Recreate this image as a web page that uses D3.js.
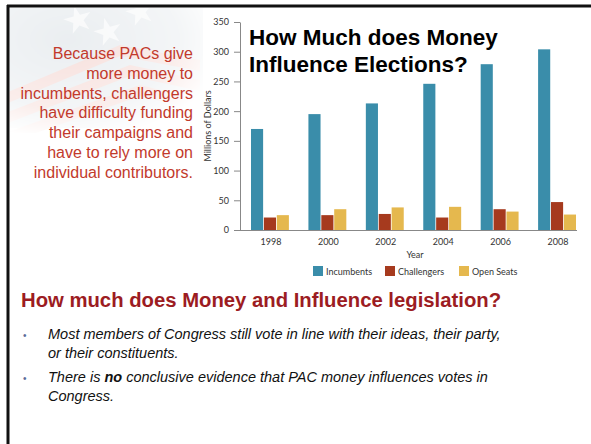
<!DOCTYPE html>
<html>
<head>
<meta charset="utf-8">
<script src="https://cdn.jsdelivr.net/npm/d3@7"></script>
<style>
  body { margin: 0; background: #fff; }
  svg { display: block; }
</style>
</head>
<body>
<script>
const years = ['1998', '2000', '2002', '2004', '2006', '2008'];
const seriesNames = ['Incumbents', 'Challengers', 'Open Seats'];
const incumbents = [170, 195, 213, 246, 279, 304];
const challengers = [21, 25, 27, 21, 35, 47];
const openSeats = [25, 35, 38, 39, 31, 26];
const yTicks = [0, 50, 100, 150, 200, 250, 300, 350];
const seriesColors = ['#3a8daa', '#a63a1e', '#e5b84e'];

const sideLines = [
  'Because PACs give',
  'more money to',
  'incumbents, challengers',
  'have difficulty funding',
  'their campaigns and',
  'have to rely more on',
  'individual contributors.'
];

const width = 591, height = 444;

const svg = d3.select('body').append('svg')
  .attr('width', width)
  .attr('height', height);

// faded flag in the corner
const defs = svg.append('defs');
const fade = defs.append('radialGradient')
  .attr('id', 'fade')
  .attr('cx', 0.3).attr('cy', 0.25).attr('r', 0.8);
fade.append('stop').attr('offset', '0%').attr('stop-color', '#fff').attr('stop-opacity', 0.9);
fade.append('stop').attr('offset', '70%').attr('stop-color', '#fff').attr('stop-opacity', 0.5);
fade.append('stop').attr('offset', '100%').attr('stop-color', '#fff').attr('stop-opacity', 0);
defs.append('mask').attr('id', 'flagMask')
  .append('rect')
    .attr('x', 8).attr('y', 8).attr('width', 200).attr('height', 125)
    .attr('fill', 'url(#fade)');

const flag = svg.append('g').attr('mask', 'url(#flagMask)');
flag.append('rect')
  .attr('x', 8).attr('y', 8).attr('width', 195).attr('height', 120)
  .attr('fill', '#e8ecef');
[0, 1, 2].forEach(i => {
  flag.append('path')
    .attr('d', `M8,${ 92 + i * 20 } L${ 120 + i * 10 },${ 45 + i * 20 } L200,${ 60 + i * 20 } L200,${ 71 + i * 20 } L${ 120 + i * 10 },${ 56 + i * 20 } L8,${ 103 + i * 20 } Z`)
    .attr('fill', '#f5dcd8');
});
const star = d3.symbol().type(d3.symbolStar).size(240);
[[78, 20], [108, 32], [140, 12]].forEach(([sx, sy]) => {
  flag.append('path')
    .attr('d', star())
    .attr('transform', `translate(${ sx },${ sy }) rotate(-15)`)
    .attr('fill', '#f7f8f9');
});

// slide frame
svg.append('line')
  .attr('x1', 7).attr('x2', width).attr('y1', 6).attr('y2', 6)
  .attr('stroke', '#111').attr('stroke-width', 3);
svg.append('line')
  .attr('x1', 8).attr('x2', 8).attr('y1', 5).attr('y2', height)
  .attr('stroke', '#111').attr('stroke-width', 3);

// side text
svg.append('g')
  .attr('font-family', '"Liberation Sans", Arial, sans-serif')
  .attr('font-size', 16)
  .attr('fill', '#c23a2c')
  .attr('text-anchor', 'end')
  .selectAll('text')
  .data(sideLines)
  .join('text')
    .attr('x', 193)
    .attr('y', (d, i) => 59 + i * 19.8)
    .text(d => d);

// chart
const axisX = 240, axisRight = 577;
const y = d3.scaleLinear().domain([0, 350]).range([230, 22]);
const x0 = d3.scaleBand().domain(years).range([251, 576]).paddingInner(0.34);
const x1 = d3.scaleBand().domain(seriesNames).range([0, x0.bandwidth()]).paddingInner(0.06);
const color = d3.scaleOrdinal().domain(seriesNames).range(seriesColors);

const rows = years.map((year, i) => ({
  year,
  values: [incumbents[i], challengers[i], openSeats[i]].map((v, j) => ({ key: seriesNames[j], value: v }))
}));

const chartFont = 'Lato, "Open Sans", sans-serif';
const chartSize = 9;

const yAxis = svg.append('g')
  .attr('transform', `translate(${ axisX },0)`)
  .call(d3.axisLeft(y).tickValues(yTicks).tickSize(6).tickPadding(5).tickSizeOuter(0));
yAxis.select('.domain').attr('stroke', '#888');
yAxis.selectAll('.tick line').attr('stroke', '#888');
yAxis.selectAll('.tick text')
  .attr('font-family', chartFont)
  .attr('font-size', chartSize)
  .attr('fill', '#333');

svg.append('g')
  .selectAll('g')
  .data(rows)
  .join('g')
    .attr('transform', d => `translate(${ x0(d.year) },0)`)
  .selectAll('rect')
  .data(d => d.values)
  .join('rect')
    .attr('x', d => x1(d.key))
    .attr('y', d => y(d.value))
    .attr('width', x1.bandwidth())
    .attr('height', d => y(0) - y(d.value))
    .attr('fill', d => color(d.key));

svg.append('line')
  .attr('x1', axisX).attr('x2', axisRight)
  .attr('y1', y(0) + 0.5).attr('y2', y(0) + 0.5)
  .attr('stroke', '#888');

svg.append('g')
  .attr('font-family', chartFont)
  .attr('font-size', chartSize)
  .attr('fill', '#333')
  .attr('text-anchor', 'middle')
  .selectAll('text')
  .data(years)
  .join('text')
    .attr('x', d => x0(d) + x0.bandwidth() / 2 + 1)
    .attr('y', 245)
    .text(d => d);

svg.append('text')
  .attr('x', 415).attr('y', 258)
  .attr('text-anchor', 'middle')
  .attr('font-family', chartFont)
  .attr('font-size', chartSize)
  .attr('fill', '#333')
  .text('Year');

svg.append('text')
  .attr('transform', `translate(211,${ y(175) }) rotate(-90)`)
  .attr('text-anchor', 'middle')
  .attr('font-family', chartFont)
  .attr('font-size', chartSize)
  .attr('fill', '#333')
  .text('Millions of Dollars');

// legend
const legendX = [313, 385, 459];
const legend = svg.append('g')
  .selectAll('g')
  .data(seriesNames)
  .join('g')
    .attr('transform', (d, i) => `translate(${ legendX[i] },266)`);
legend.append('rect')
  .attr('width', 10).attr('height', 10)
  .attr('fill', d => color(d));
legend.append('text')
  .attr('x', 13).attr('y', 8.5)
  .attr('font-family', chartFont)
  .attr('font-size', chartSize)
  .attr('fill', '#333')
  .text(d => d);

// chart title
svg.append('g')
  .attr('font-family', '"Liberation Sans", Arial, sans-serif')
  .attr('font-weight', 'bold')
  .attr('font-size', 22.5)
  .attr('fill', '#000')
  .selectAll('text')
  .data(['How Much does Money', 'Influence Elections?'])
  .join('text')
    .attr('x', 249)
    .attr('y', (d, i) => 45 + i * 26.5)
    .text(d => d);

// lower heading
svg.append('text')
  .attr('x', 21).attr('y', 307)
  .attr('font-family', '"Liberation Sans", Arial, sans-serif')
  .attr('font-weight', 'bold')
  .attr('font-size', 20.3)
  .attr('fill', '#9c1c22')
  .text('How much does Money and Influence legislation?');

// bullets
const bullets = [
  [['Most members of Congress still vote in line with their ideas, their party,'], ['or their constituents.']],
  [['There is ', ['no'], ' conclusive evidence that PAC money influences votes in'], ['Congress.']]
];
const bulletY = [339, 382];
const bulletG = svg.append('g')
  .attr('font-family', '"Liberation Sans", Arial, sans-serif')
  .attr('font-size', 14.5)
  .attr('font-style', 'italic')
  .attr('fill', '#111');

bullets.forEach((lines, bi) => {
  bulletG.append('text')
    .attr('x', 23).attr('y', bulletY[bi])
    .attr('font-style', 'normal')
    .attr('font-size', 10)
    .attr('fill', '#5a6d98')
    .text('•');
  lines.forEach((parts, li) => {
    const t = bulletG.append('text')
      .attr('x', 48)
      .attr('y', bulletY[bi] + li * 19);
    parts.forEach(p => {
      const span = t.append('tspan').text(Array.isArray(p) ? p[0] : p);
      if (Array.isArray(p)) span.attr('font-weight', 'bold');
    });
  });
});
</script>
</body>
</html>
